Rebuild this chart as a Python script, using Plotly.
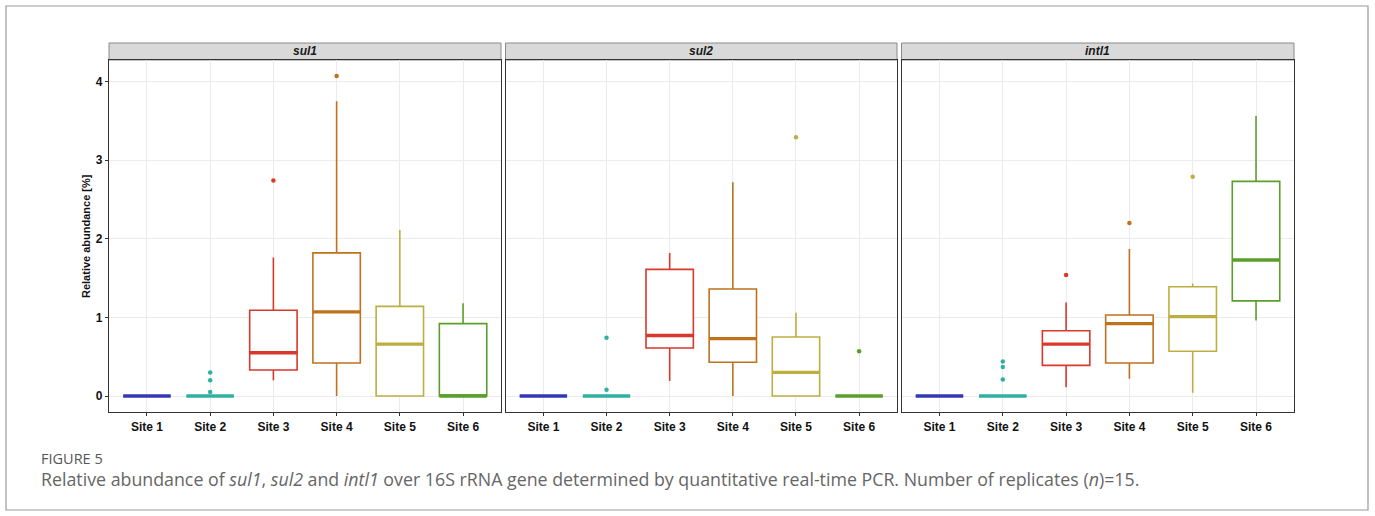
import plotly.graph_objects as go

# ---------------- data ----------------
sites = ["Site 1", "Site 2", "Site 3", "Site 4", "Site 5", "Site 6"]
genes = ["sul1", "sul2", "intl1"]
colors = ["#3437b6", "#2fb0a3", "#d9382c", "#c0711c", "#bcae40", "#5c9e2c"]

sul1_lower = [0, 0, 0.20, 0.00, 0.00, 0.00]
sul1_q1 = [0, 0, 0.33, 0.42, 0.00, 0.00]
sul1_med = [0, 0, 0.55, 1.07, 0.66, 0.00]
sul1_q3 = [0, 0, 1.09, 1.82, 1.14, 0.92]
sul1_upper = [0, 0, 1.76, 3.75, 2.11, 1.18]
sul1_out = [[], [0.30, 0.20, 0.05], [2.74], [4.07], [], []]

sul2_lower = [0, 0, 0.19, 0.00, 0.00, 0]
sul2_q1 = [0, 0, 0.61, 0.43, 0.00, 0]
sul2_med = [0, 0, 0.77, 0.73, 0.30, 0]
sul2_q3 = [0, 0, 1.61, 1.36, 0.75, 0]
sul2_upper = [0, 0, 1.82, 2.72, 1.06, 0]
sul2_out = [[], [0.74, 0.08], [], [], [3.29], [0.57]]

intl1_lower = [0, 0, 0.11, 0.22, 0.04, 0.96]
intl1_q1 = [0, 0, 0.39, 0.42, 0.57, 1.21]
intl1_med = [0, 0, 0.66, 0.92, 1.01, 1.73]
intl1_q3 = [0, 0, 0.83, 1.03, 1.39, 2.73]
intl1_upper = [0, 0, 1.19, 1.87, 1.43, 3.56]
intl1_out = [[], [0.44, 0.37, 0.21], [1.54], [2.20], [2.79], []]

y_ticks = [0, 1, 2, 3, 4]
y_label = "Relative abundance [%]"
fig_label = "FIGURE 5"
caption = ("Relative abundance of <i>sul1</i>, <i>sul2</i> and <i>intl1</i> over 16S rRNA gene "
           "determined by quantitative real-time PCR. Number of replicates (<i>n</i>)=15.")

stats = {
    "sul1": (sul1_lower, sul1_q1, sul1_med, sul1_q3, sul1_upper, sul1_out),
    "sul2": (sul2_lower, sul2_q1, sul2_med, sul2_q3, sul2_upper, sul2_out),
    "intl1": (intl1_lower, intl1_q1, intl1_med, intl1_q3, intl1_upper, intl1_out),
}

# ---------------- layout geometry ----------------
W, H = 1375, 516
px_domains = [(109, 501), (505.5, 897), (901.5, 1294)]
domains = [(a / W, b / W) for a, b in px_domains]
plot_top, plot_bot = 60, 412
strip_top = 43
ydom = (1 - plot_bot / H, 1 - plot_top / H)
box_w = 0.75
ymax = 4.07
yrange = [-0.05 * ymax, ymax * 1.05]

fig = go.Figure()

tick_font = dict(family="Liberation Sans Narrow, Arial Narrow, Liberation Sans, Arial", size=12,
                 color="#111", weight="bold")

for gi, g in enumerate(genes):
    lo, q1, md, q3, up, outs = stats[g]
    xa = "x" if gi == 0 else f"x{gi+1}"
    ya = "y" if gi == 0 else f"y{gi+1}"
    for si, s in enumerate(sites):
        pos = si + 1
        c = colors[si]
        fig.add_trace(go.Box(
            x=[pos], q1=[q1[si]], median=[md[si]], q3=[q3[si]],
            lowerfence=[lo[si]], upperfence=[up[si]],
            width=box_w, whiskerwidth=0, boxpoints=False,
            line=dict(color=c, width=1.6), fillcolor="white",
            xaxis=xa, yaxis=ya, showlegend=False, hoverinfo="skip"))
        fig.add_trace(go.Scatter(
            x=[pos - box_w / 2, pos + box_w / 2], y=[md[si], md[si]],
            mode="lines", line=dict(color=c, width=3.4),
            xaxis=xa, yaxis=ya, showlegend=False, hoverinfo="skip"))
        if outs[si]:
            fig.add_trace(go.Scatter(
                x=[pos] * len(outs[si]), y=outs[si], mode="markers",
                marker=dict(color=c, size=4.5),
                xaxis=xa, yaxis=ya, showlegend=False, hoverinfo="skip"))

layout = dict(
    width=W, height=H,
    margin=dict(l=0, r=0, t=0, b=0),
    paper_bgcolor="white", plot_bgcolor="white",
    showlegend=False,
)
for gi in range(3):
    xk = "xaxis" if gi == 0 else f"xaxis{gi+1}"
    yk = "yaxis" if gi == 0 else f"yaxis{gi+1}"
    layout[xk] = dict(
        domain=list(domains[gi]), anchor="y" if gi == 0 else f"y{gi+1}",
        range=[0.4, 6.6], tickmode="array", tickvals=list(range(1, len(sites) + 1)),
        ticktext=sites, tickfont=tick_font, ticks="outside", ticklen=3,
        tickcolor="#333", showgrid=True, gridcolor="#ebebeb", gridwidth=1,
        showline=True, mirror=True, linecolor="#333", linewidth=1.2, zeroline=False,
        fixedrange=True,
    )
    layout[yk] = dict(
        domain=list(ydom), anchor="x" if gi == 0 else f"x{gi+1}",
        range=yrange, tickmode="array", tickvals=y_ticks,
        showticklabels=(gi == 0), tickfont=dict(family="Liberation Sans, Arial", size=12,
                                                color="#111", weight="bold"),
        ticks="outside" if gi == 0 else "", ticklen=3, tickcolor="#333",
        showgrid=True, gridcolor="#ebebeb", gridwidth=1,
        showline=True, mirror=True, linecolor="#333", linewidth=1.2, zeroline=False,
        fixedrange=True,
    )
fig.update_layout(**layout)

shapes = []
annotations = []
for gi, g in enumerate(genes):
    x0, x1 = domains[gi]
    shapes.append(dict(type="rect", xref="paper", yref="paper",
                       x0=x0, x1=x1, y0=1 - plot_top / H, y1=1 - strip_top / H,
                       fillcolor="#d9d9d9", line=dict(color="#8a8a8a", width=1), layer="below"))
    annotations.append(dict(xref="paper", yref="paper", x=(x0 + x1) / 2,
                            y=1 - (strip_top + plot_top) / 2 / H, text=f"<b><i>{g}</i></b>",
                            showarrow=False, xanchor="center", yanchor="middle",
                            font=dict(family="Liberation Sans, Arial", size=12, color="#1a1a1a")))
# outer frame
shapes.append(dict(type="rect", xref="paper", yref="paper", x0=6 / W, x1=1368 / W,
                   y0=1 - 510 / H, y1=1 - 6 / H, line=dict(color="#9a9a9a", width=1.2),
                   fillcolor="rgba(0,0,0,0)"))
annotations.append(dict(xref="paper", yref="paper", x=86 / W, y=1 - 236 / H,
                        text=f"<b>{y_label}</b>", textangle=-90, showarrow=False,
                        xanchor="center", yanchor="middle",
                        font=dict(family="Liberation Sans, Arial", size=11, color="#111")))
annotations.append(dict(xref="paper", yref="paper", x=39 / W, y=1 - 458 / H,
                        text=fig_label, showarrow=False, xanchor="left", yanchor="middle",
                        font=dict(family="Open Sans, Noto Sans", size=14.5, color="#555")))
annotations.append(dict(xref="paper", yref="paper", x=39 / W, y=1 - 479 / H,
                        text=caption, showarrow=False, xanchor="left", yanchor="middle",
                        font=dict(family="Open Sans, Noto Sans", size=17.8, color="#666")))
fig.update_layout(shapes=shapes, annotations=annotations)

fig.write_html("out.html")
